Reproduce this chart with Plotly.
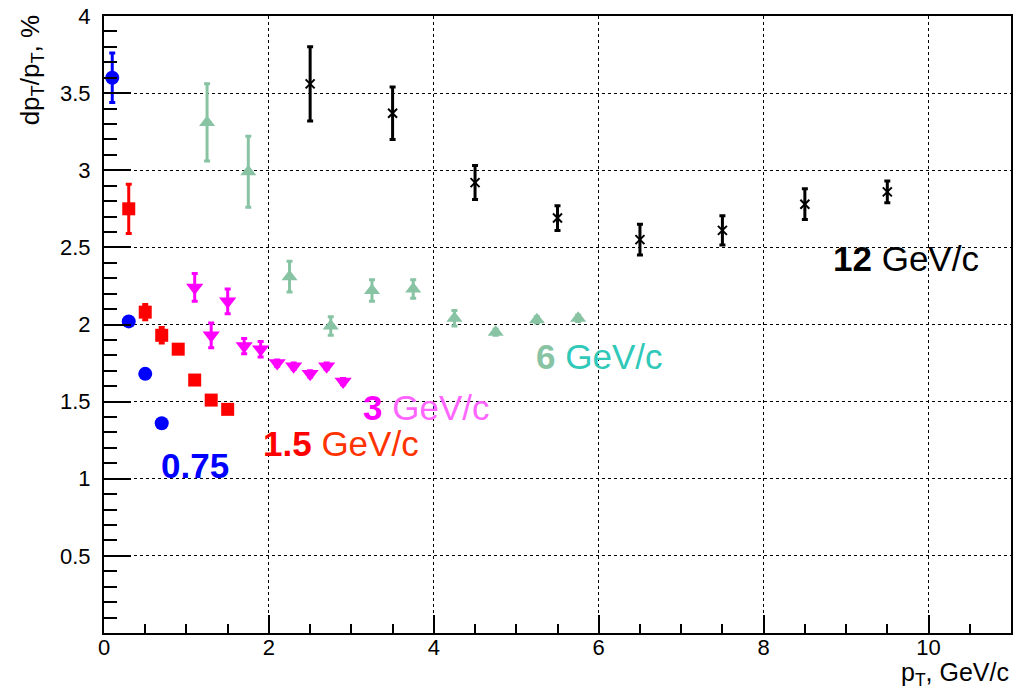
import plotly.graph_objects as go

# ---- data ----
blue_x = [0.1, 0.3, 0.5, 0.7]
blue_y = [3.60, 2.02, 1.68, 1.36]
blue_err = [0.16, 0.01, 0.01, 0.01]

red_x = [0.3, 0.5, 0.7, 0.9, 1.1, 1.3, 1.5]
red_y = [2.75, 2.08, 1.93, 1.84, 1.64, 1.51, 1.45]
red_err = [0.16, 0.05, 0.05, 0.02, 0.02, 0.02, 0.02]

mag_x = [1.1, 1.3, 1.5, 1.7, 1.9, 2.1, 2.3, 2.5, 2.7, 2.9]
mag_y = [2.24, 1.93, 2.15, 1.86, 1.84, 1.75, 1.73, 1.68, 1.73, 1.63]
mag_err = [0.09, 0.08, 0.08, 0.05, 0.05, 0.02, 0.02, 0.02, 0.02, 0.02]

green_x = [1.25, 1.75, 2.25, 2.75, 3.25, 3.75, 4.25, 4.75, 5.25, 5.75]
green_y = [3.31, 2.99, 2.31, 1.99, 2.22, 2.23, 2.04, 1.95, 2.03, 2.04]
green_err = [0.25, 0.23, 0.10, 0.06, 0.07, 0.06, 0.05, 0.02, 0.02, 0.02]

black_x = [2.5, 3.5, 4.5, 5.5, 6.5, 7.5, 8.5, 9.5]
black_y = [3.56, 3.37, 2.92, 2.69, 2.55, 2.61, 2.78, 2.86]
black_err = [0.24, 0.17, 0.11, 0.08, 0.10, 0.095, 0.10, 0.07]

y_ticks = [0.5, 1, 1.5, 2, 2.5, 3, 3.5, 4]
y_ticklabels = ["0.5", "1", "1.5", "2", "2.5", "3", "3.5", "4"]
x_ticks = [0, 2, 4, 6, 8, 10]

FONT = "Liberation Sans, Arial, Helvetica, sans-serif"
GREEN = "rgb(136,196,164)"

fig = go.Figure()

def add_series(x, y, err, color, symbol, size, thick=3, line=None):
    marker = dict(color=color, symbol=symbol, size=size)
    if line:
        marker["line"] = line
    fig.add_trace(go.Scatter(
        x=x, y=y, mode="markers", marker=marker,
        error_y=dict(type="data", array=err, visible=True, color=color,
                     thickness=thick, width=3),
        showlegend=False, cliponaxis=False,
    ))

add_series(green_x, green_y, green_err, GREEN, "triangle-up", 14)
add_series(mag_x, mag_y, mag_err, "#ff00ff", "triangle-down", 15)
add_series(red_x, red_y, red_err, "#ff0000", "square", 13)
add_series(blue_x, blue_y, blue_err, "#0000ff", "circle", 14)
add_series(black_x, black_y, black_err, "#000000", "x-thin-open", 9,
           line=dict(color="#000000", width=2))

labels = [
    (0.67, 1.087, "<b>0.75</b>", "#0000ff"),
    (1.90, 1.230, "<b>1.5</b> <span style='color:#ff3300'>GeV/c</span>", "#ff0000"),
    (3.12, 1.465, "<b>3</b> <span style='color:#ff66ff'>GeV/c</span>", "#ff00ff"),
    (5.22, 1.79, "<b>6</b> <span style='color:#30c8b8'>GeV/c</span>", GREEN),
    (8.82, 2.43, "<b>12</b> GeV/c", "#000000"),
]
for lx, ly, txt, col in labels:
    fig.add_annotation(x=lx, y=ly, xref="x", yref="y", text=txt, showarrow=False,
                       xanchor="left", yanchor="middle",
                       font=dict(family=FONT, size=35, color=col))

# axis titles
fig.add_annotation(xref="paper", yref="paper", x=-0.080, y=1.005, text="dp<sub>T</sub>/p<sub>T</sub>, %",
                   textangle=-90, showarrow=False, xanchor="center", yanchor="top",
                   font=dict(family=FONT, size=26, color="black"))
fig.add_annotation(xref="paper", yref="paper", x=1.0, y=-0.066, text="p<sub>T</sub>, GeV/c",
                   showarrow=False, xanchor="right", yanchor="middle",
                   font=dict(family=FONT, size=25, color="black"))

axis_common = dict(showline=True, linecolor="black", linewidth=2, mirror=True,
                   showgrid=True, gridcolor="black", griddash="dot", gridwidth=1,
                   zeroline=False, ticks="inside", tickcolor="black", tickwidth=2,
                   automargin=False,
                   tickfont=dict(family=FONT, size=22, color="black"))

fig.update_xaxes(range=[0, 11], tickvals=x_ticks, ticklen=18, ticklabelstandoff=-6,
                 minor=dict(dtick=0.5, ticklen=9, ticks="inside", tickcolor="black",
                            tickwidth=2, showgrid=False),
                 **axis_common)
fig.update_yaxes(range=[0, 4], tickvals=y_ticks, ticktext=y_ticklabels, ticklen=27,
                 ticklabelstandoff=7,
                 minor=dict(dtick=0.1, ticklen=13, ticks="inside", tickcolor="black",
                            tickwidth=2, showgrid=False),
                 **axis_common)

fig.update_layout(width=1017, height=691, margin=dict(l=104, r=6, t=16, b=58),
                  plot_bgcolor="white", paper_bgcolor="white",
                  font=dict(family=FONT, color="black"))

fig.write_html("out.html", config={"displayModeBar": False},
               post_script="document.body.style.margin='0';document.body.style.overflow='hidden';")
